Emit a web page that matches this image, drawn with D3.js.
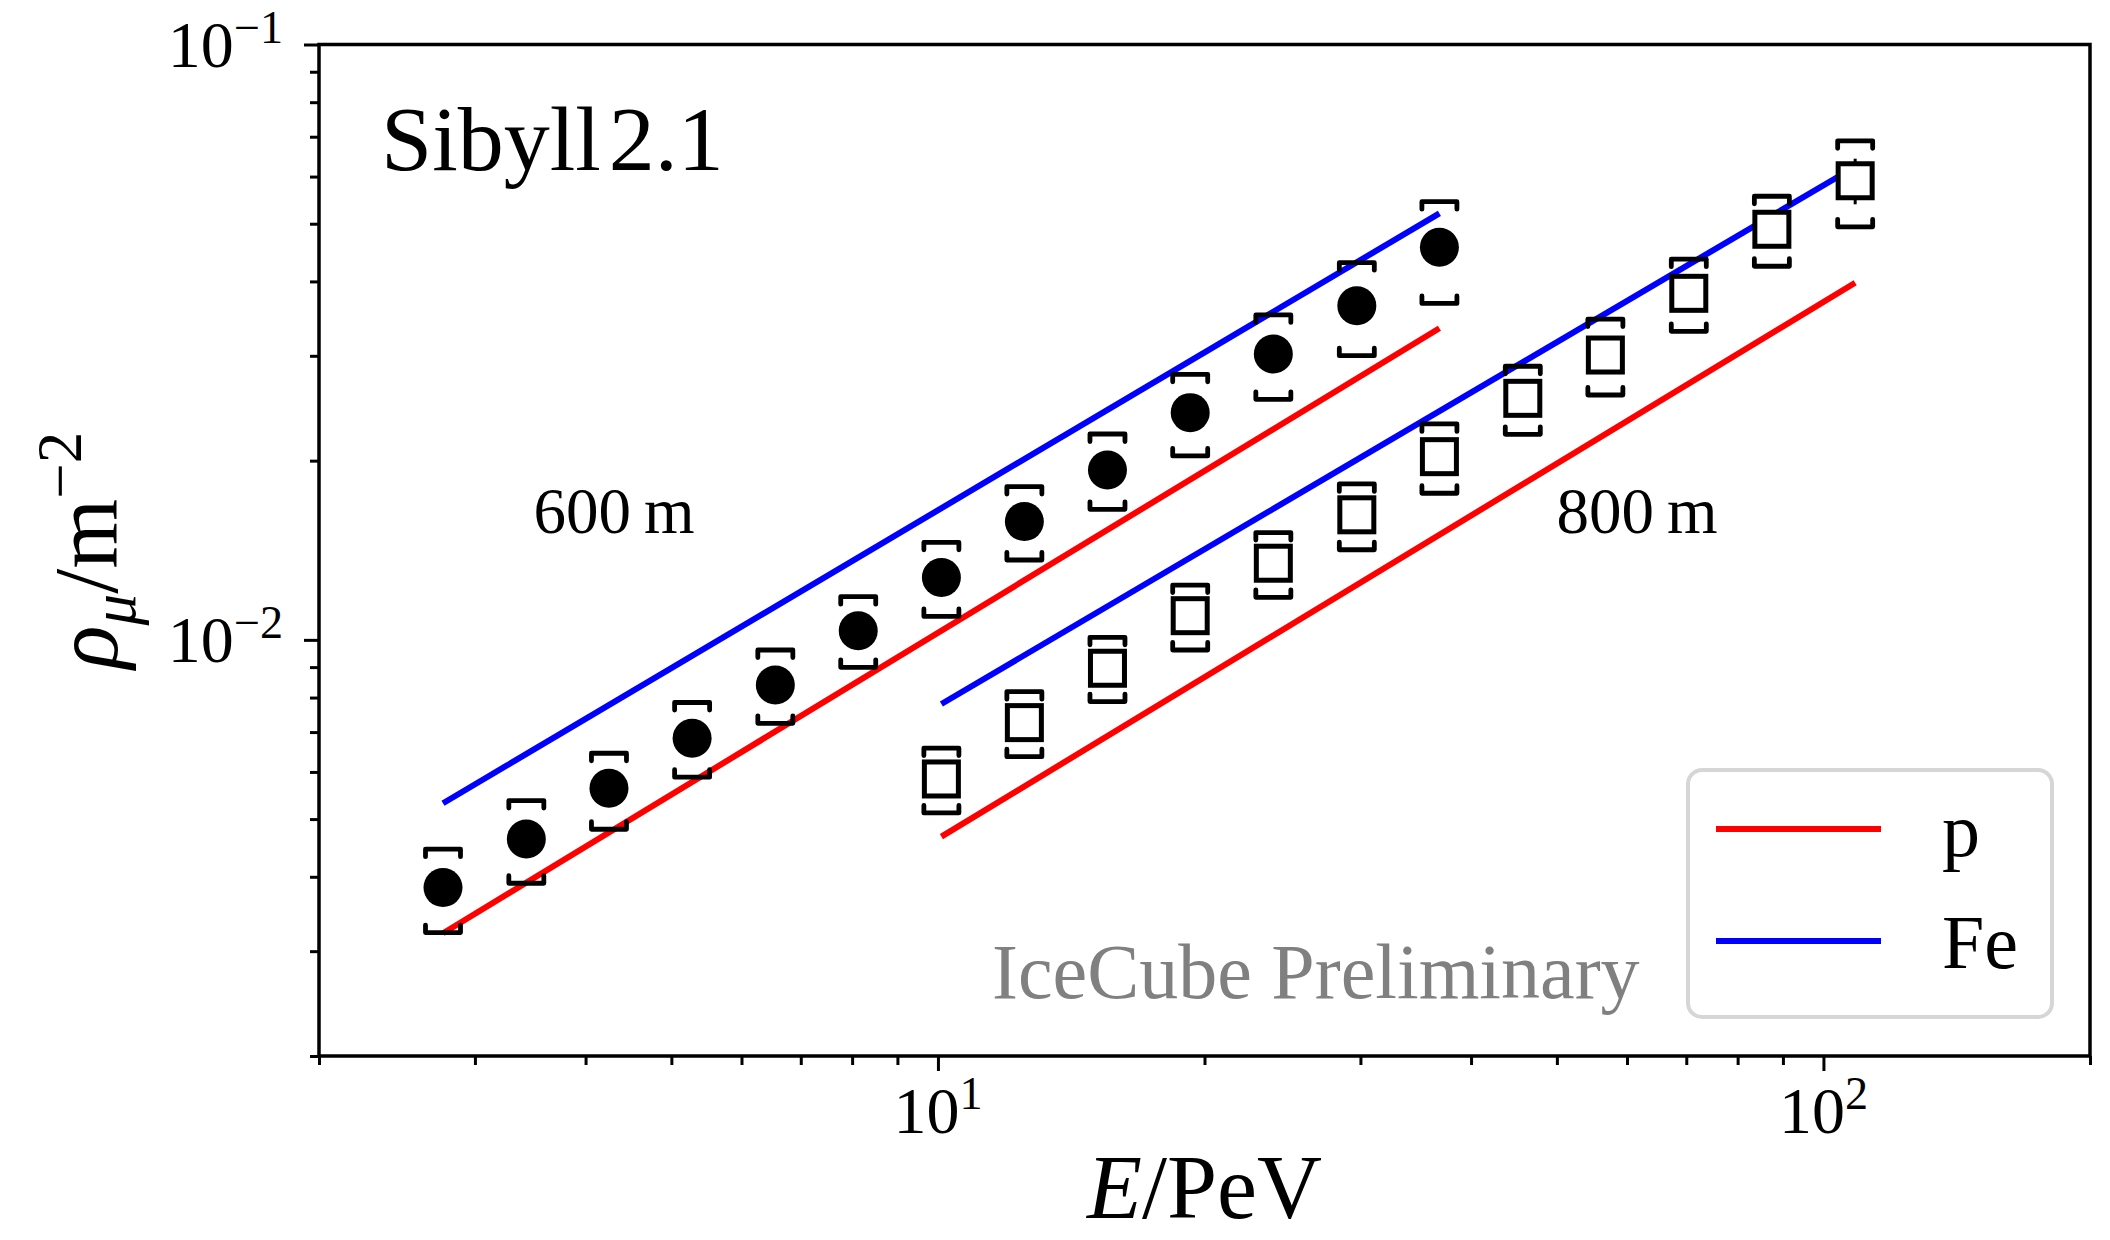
<!DOCTYPE html>
<html>
<head>
<meta charset="utf-8">
<script src="https://cdn.jsdelivr.net/npm/d3@7"></script>
<style>
  body { margin: 0; background: #fff; }
  svg text { font-family: "Liberation Serif", "Times New Roman", serif; }
</style>
</head>
<body>
<svg id="chart" width="2110" height="1240"></svg>
<script>
// Muon density vs. primary energy, Sibyll 2.1

// 600 m lateral distance (filled circles)
const energy600 = [2.761, 3.429, 4.251, 5.277, 6.552, 8.128, 10.09, 12.52, 15.54, 19.27, 23.92, 29.72, 36.84];
const rho600    = [0.003836, 0.004630, 0.005633, 0.006836, 0.008397, 0.01036, 0.01273, 0.01580, 0.01929, 0.02408, 0.03021, 0.03641, 0.04564];
const rho600Hi  = [0.004450, 0.005370, 0.006450, 0.007848, 0.009615, 0.01182, 0.01458, 0.01809, 0.02217, 0.02793, 0.03514, 0.04300, 0.05445];
const rho600Lo  = [0.003223, 0.003901, 0.004807, 0.005880, 0.007241, 0.008991, 0.01095, 0.01362, 0.01657, 0.02037, 0.02535, 0.03001, 0.03674];

// 800 m lateral distance (open squares)
const energy800 = [10.09, 12.52, 15.54, 19.27, 23.92, 29.72, 36.84, 45.76, 56.72, 70.46, 87.45, 108.6];
const rho800    = [0.005839, 0.007261, 0.008960, 0.01098, 0.01345, 0.01622, 0.02031, 0.02545, 0.03009, 0.03820, 0.04894, 0.05904];
const rho800Hi  = [0.006580, 0.008183, 0.01010, 0.01236, 0.01514, 0.01828, 0.02305, 0.02881, 0.03458, 0.04359, 0.05560, 0.06890];
const rho800Lo  = [0.005120, 0.006366, 0.007876, 0.009616, 0.01179, 0.01417, 0.01763, 0.02214, 0.02578, 0.03298, 0.04242, 0.04941];
// statistical errors (only the last one reaches outside its marker)
const rho800StatHi = [null, null, null, null, null, null, null, null, null, null, null, 0.06430];
const rho800StatLo = [null, null, null, null, null, null, null, null, null, null, null, 0.05390];

// Simulated expectations for proton and iron primaries
const lineEnergy600 = [2.761, 36.84];
const proton600     = [0.003215, 0.03337];
const iron600       = [0.005315, 0.05205];
const lineEnergy800 = [10.09, 108.6];
const proton800     = [0.004671, 0.03980];
const iron800       = [0.007803, 0.06233];

// Axis ticks
const xMajorTicks = [10, 100];
const xMajorExp   = ["1", "2"];
const xMinorTicks = [2, 3, 4, 5, 6, 7, 8, 9, 20, 30, 40, 50, 60, 70, 80, 90, 200];
const yMajorTicks = [0.01, 0.1];
const yMajorExp   = ["\u22122", "\u22121"];
const yMinorTicks = [0.002, 0.003, 0.004, 0.005, 0.006, 0.007, 0.008, 0.009,
                     0.02, 0.03, 0.04, 0.05, 0.06, 0.07, 0.08, 0.09];

const legendLabels = ["p", "Fe"];
const legendColors = ["#ff0000", "#0000ff"];

const svg = d3.select("#chart");
const plot = { left: 319, right: 2090, top: 44.5, bottom: 1056 };

const x = d3.scaleLog().domain([2, 200]).range([plot.left, plot.right]);
const y = d3.scaleLog().domain([0.002, 0.1]).range([plot.bottom, plot.top]);

// ---- ticks ----
function tickAxis(axis, cls, transform) {
  const g = svg.append("g").attr("class", cls).attr("transform", transform).call(axis);
  g.select(".domain").remove();
  g.selectAll(".tick line").attr("stroke", "#000").attr("stroke-width", 3);
  g.selectAll(".tick text").remove();
}
tickAxis(d3.axisBottom(x).tickValues(xMinorTicks).tickSize(9), "xminor", `translate(0,${plot.bottom})`);
tickAxis(d3.axisBottom(x).tickValues(xMajorTicks).tickSize(15), "xmajor", `translate(0,${plot.bottom})`);
tickAxis(d3.axisLeft(y).tickValues(yMinorTicks).tickSize(9), "yminor", `translate(${plot.left},0)`);
tickAxis(d3.axisLeft(y).tickValues(yMajorTicks).tickSize(15), "ymajor", `translate(${plot.left},0)`);

const tickFont = 66;
function powerLabel(sel, exp) {
  sel.append("tspan").text("10");
  sel.append("tspan").attr("dy", -0.36 * tickFont).attr("font-size", tickFont * 0.7).text(exp);
}
xMajorTicks.forEach((v, i) => {
  const t = svg.append("text")
    .attr("x", x(v)).attr("y", 1133)
    .attr("text-anchor", "middle").attr("font-size", tickFont);
  powerLabel(t, xMajorExp[i]);
});
yMajorTicks.forEach((v, i) => {
  const t = svg.append("text")
    .attr("x", 283).attr("y", y(v) + 22)
    .attr("text-anchor", "end").attr("font-size", tickFont);
  powerLabel(t, yMajorExp[i]);
});

// ---- model lines ----
const line = d3.line().x(d => x(d[0])).y(d => y(d[1]));
function drawModel(es, rs, color) {
  svg.append("path")
    .attr("d", line(es.map((e, i) => [e, rs[i]])))
    .attr("fill", "none").attr("stroke", color).attr("stroke-width", 6);
}
drawModel(lineEnergy600, proton600, legendColors[0]);
drawModel(lineEnergy600, iron600, legendColors[1]);
drawModel(lineEnergy800, proton800, legendColors[0]);
drawModel(lineEnergy800, iron800, legendColors[1]);

// ---- systematic brackets ----
const bw = 17.5, bt = 7.5;
function bracketPath(cx, cy, dir) {
  return `M${cx - bw},${cy + dir * bt}L${cx - bw},${cy}L${cx + bw},${cy}L${cx + bw},${cy + dir * bt}`;
}
function drawBrackets(es, hi, lo) {
  const g = svg.append("g").attr("fill", "none").attr("stroke", "#000")
    .attr("stroke-width", 4.8).attr("stroke-linecap", "round").attr("stroke-linejoin", "round");
  es.forEach((e, i) => {
    g.append("path").attr("d", bracketPath(x(e), y(hi[i]), 1));
    g.append("path").attr("d", bracketPath(x(e), y(lo[i]), -1));
  });
}
drawBrackets(energy600, rho600Hi, rho600Lo);
drawBrackets(energy800, rho800Hi, rho800Lo);

// statistical error bars
energy800.forEach((e, i) => {
  if (rho800StatHi[i] == null) return;
  svg.append("line")
    .attr("x1", x(e)).attr("x2", x(e))
    .attr("y1", y(rho800StatHi[i])).attr("y2", y(rho800StatLo[i]))
    .attr("stroke", "#000").attr("stroke-width", 3);
});

// ---- markers ----
svg.append("g").selectAll("circle").data(energy600).join("circle")
  .attr("cx", d => x(d)).attr("cy", (d, i) => y(rho600[i]))
  .attr("r", 19.5).attr("fill", "#000");

const sq = 34;
svg.append("g").selectAll("rect").data(energy800).join("rect")
  .attr("x", d => x(d) - sq / 2).attr("y", (d, i) => y(rho800[i]) - sq / 2)
  .attr("width", sq).attr("height", sq)
  .attr("fill", "#fff").attr("stroke", "#000").attr("stroke-width", 5);

// ---- annotations ----
const title = svg.append("text").attr("x", 381).attr("y", 170).attr("font-size", 92);
title.append("tspan").text("Sibyll");
title.append("tspan").attr("dx", 8).text("2.1");
svg.append("text").attr("x", 614).attr("y", 533).attr("font-size", 65)
  .attr("text-anchor", "middle").text("600\u2009m");
svg.append("text").attr("x", 1637).attr("y", 533).attr("font-size", 65)
  .attr("text-anchor", "middle").text("800\u2009m");
svg.append("text").attr("x", 992).attr("y", 998).attr("font-size", 78)
  .attr("fill", "#808080").text("IceCube Preliminary");

// ---- legend ----
const lg = svg.append("g");
lg.append("rect").attr("x", 1688).attr("y", 770).attr("width", 364).attr("height", 247)
  .attr("rx", 14).attr("fill", "#fff").attr("stroke", "#d6d6d6").attr("stroke-width", 4);
legendLabels.forEach((lab, i) => {
  const cy = 829 + i * 112;
  lg.append("line").attr("x1", 1716).attr("x2", 1881).attr("y1", cy).attr("y2", cy)
    .attr("stroke", legendColors[i]).attr("stroke-width", 6);
  lg.append("text").attr("x", 1942).attr("y", cy + 27).attr("font-size", 76).text(lab);
});

// ---- frame ----
svg.append("rect")
  .attr("x", plot.left).attr("y", plot.top)
  .attr("width", plot.right - plot.left).attr("height", plot.bottom - plot.top)
  .attr("fill", "none").attr("stroke", "#000").attr("stroke-width", 3.5);

// ---- axis labels ----
const labelFont = 90;
const xl = svg.append("text").attr("x", (plot.left + plot.right) / 2).attr("y", 1218)
  .attr("text-anchor", "middle").attr("font-size", labelFont);
xl.append("tspan").attr("font-style", "italic").text("E");
xl.append("tspan").text("/PeV");

const yl = svg.append("text")
  .attr("transform", `translate(117,${(plot.top + plot.bottom) / 2}) rotate(-90)`)
  .attr("text-anchor", "middle").attr("font-size", labelFont);
yl.append("tspan").attr("font-style", "italic").text("\u03c1");
yl.append("tspan").attr("font-style", "italic").attr("font-size", labelFont * 0.7)
  .attr("dy", 0.2 * labelFont).text("\u03bc");
yl.append("tspan").attr("dy", -0.2 * labelFont).text("/m");
yl.append("tspan").attr("font-size", labelFont * 0.7).attr("dy", -0.4 * labelFont).text("\u22122");
</script>
</body>
</html>
